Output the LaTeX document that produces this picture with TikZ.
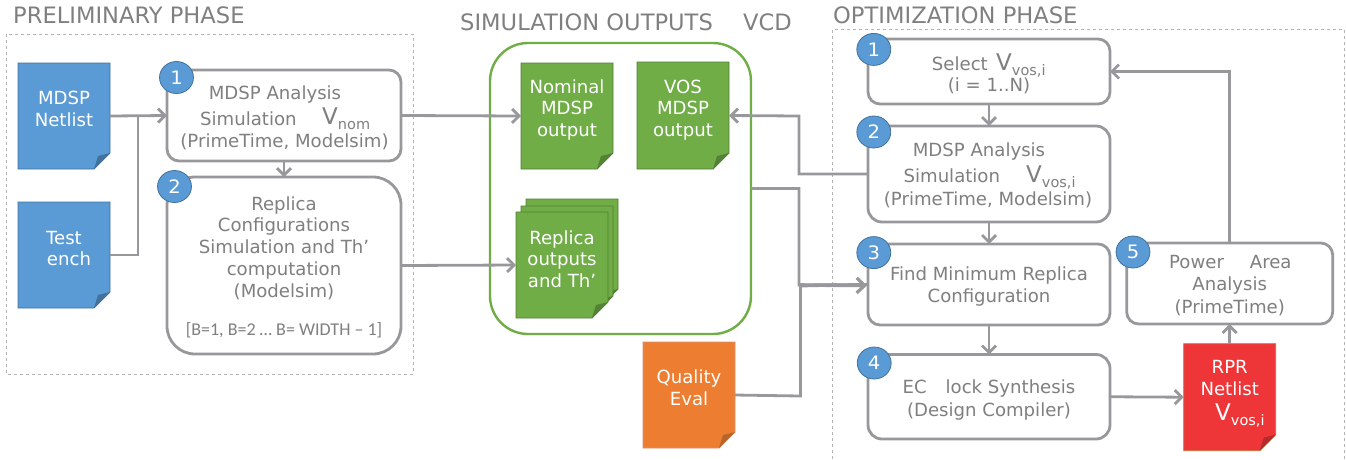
\documentclass[tikz,border=0pt]{standalone}
\usepackage{fontspec}
\setmainfont{DejaVu Sans}
\newfontfamily\calfont{Carlito}
\usetikzlibrary{arrows.meta}
\definecolor{txtgray}{HTML}{7F7F7F}
\definecolor{linegray}{HTML}{98989C}
\definecolor{dashgray}{HTML}{B4B4B4}
\definecolor{blueF}{HTML}{5B9BD5}
\definecolor{blueE}{HTML}{41719C}
\definecolor{blueD}{HTML}{41719C}
\definecolor{greenF}{HTML}{70AD47}
\definecolor{greenE}{HTML}{507E32}
\definecolor{greenD}{HTML}{548235}
\definecolor{orangeF}{HTML}{ED7D31}
\definecolor{orangeE}{HTML}{D9916A}
\definecolor{orangeD}{HTML}{B8642A}
\definecolor{redF}{HTML}{EE3538}
\definecolor{redE}{HTML}{C0703A}
\definecolor{redD}{HTML}{B52A2A}
\tikzset{
  stepbox/.style={draw=linegray,line width=2.8pt,fill=white,rounded corners=#1,inner sep=0pt,outer sep=0pt},
  stepbox/.default=12pt,
  badge/.style={circle,fill=blueF,draw=blueE,line width=0.8pt,minimum size=32pt,inner sep=0pt,text=white,font=\fontsize{18.5}{18.5}\selectfont,xscale=1.06},
  lbl/.style={text=txtgray,font=\fontsize{18.1}{21.7}\selectfont,align=center,inner sep=0pt},
  wlbl/.style={text=white,font=\fontsize{18.1}{21.7}\selectfont,align=center,inner sep=0pt},
  head/.style={text=txtgray,font=\fontsize{22.6}{24}\selectfont,anchor=base west,inner sep=0pt},
  conn/.style={draw=linegray,line width=2.8pt,-{Straight Barb[length=7pt,width=14pt,line width=2.8pt]}},
  plain/.style={draw=linegray,line width=2.8pt},
  phase/.style={draw=dashgray,line width=0.9pt,dash pattern=on 3pt off 3pt},
  hit/.style={inner sep=0pt,outer sep=0pt},
}
\newcommand{\Vsub}[1]{{\fontsize{23}{23}\selectfont V}\raisebox{-5pt}{\fontsize{14.5}{15}\selectfont #1}}
% name, x, y, w, h, fill, edge, fold
\newcommand{\docsheet}[8]{%
  \path[fill=#6,draw=#7,line width=0.9pt] (#2,#3) -- ++(#4,0) -- ++(0,#5-16) -- ++(-16,16) -- ++(16-#4,0) -- cycle;
  \path[fill=#8] (#2+#4-16,#3+#5) -- ++(4,-13) -- ++(12,-3) -- cycle;
  \node[hit,minimum width=#4 pt,minimum height=#5 pt] (#1) at (#2+#4/2,#3+#5/2) {};
}
\begin{document}
\begin{tikzpicture}[x=1pt,y=-1pt]
\useasboundingbox (0,0) rectangle (1346,459);
% phase frames
\draw[phase] (6,34) rectangle (413,374);
\draw[phase] (832,459) -- (832,29.5) -- (1344,29.5) -- (1344,459);
\node[head] (tprelim) at (13,23) {PRELIMINARY PHASE};
\node[head] (tsim) at (460,30) {SIMULATION OUTPUTS};
\node[head] (tvcd) at (743,30) {VCD};
\node[head] (topt) at (833,23) {OPTIMIZATION PHASE};
% green container
\node[draw=greenF,line width=2.4pt,fill=white,rounded corners=38pt,minimum width=261pt,minimum height=291pt,inner sep=0pt,outer sep=0pt] (outputs) at (620.5,188.5) {};
% documents
\docsheet{netlist}{18}{63}{92}{106}{blueF}{blueE}{blueD}
\docsheet{bench}{18}{202}{92}{106}{blueF}{blueE}{blueD}
\docsheet{nominal}{521}{63}{92}{106}{greenF}{greenE}{greenD}
\docsheet{vos}{637}{62}{92}{107}{greenF}{greenE}{greenD}
\docsheet{replicaC}{526}{199}{92}{106}{greenF}{greenE}{greenD}
\docsheet{replicaB}{521}{206}{92}{106}{greenF}{greenE}{greenD}
\docsheet{replicaA}{516}{212}{92}{106}{greenF}{greenE}{greenD}
\docsheet{quality}{643}{342}{92}{106}{orangeF}{orangeE}{orangeD}
\docsheet{rpr}{1183.7}{343.7}{92}{107}{redF}{redE}{redD}
% step boxes
\node[stepbox,minimum width=234pt,minimum height=91pt] (pa) at (284,115.5) {};
\node[stepbox=28pt,minimum width=234pt,minimum height=177pt] (pb) at (284,265.5) {};
\node[stepbox,minimum width=242pt,minimum height=65pt] (oa) at (989,71.5) {};
\node[stepbox=14pt,minimum width=242pt,minimum height=96pt] (ob) at (989,174) {};
\node[stepbox,minimum width=242pt,minimum height=81pt] (oc) at (989,284.5) {};
\node[stepbox=14pt,minimum width=242pt,minimum height=84.5pt] (od) at (989,396.75) {};
\node[stepbox,minimum width=206pt,minimum height=81pt] (oe) at (1229.7,283.5) {};
% connectors
\coordinate (merge) at (138,116);
\draw[conn] (netlist.east) -- (pa.west);
\draw[plain] (bench.east) -| (merge);
\draw[conn] (pa.south) -- (pb.north);
\draw[conn] (pa.east) -- (nominal.west);
\draw[conn] (pb.east) -- (replicaA.west);
\coordinate (vosA) at (799,174);
\coordinate (vosB) at (799,116);
\draw[conn] (ob.west) -- (vosA) -- (vosB) -- (vos.east);
\coordinate (outA) at (799,188.5);
\coordinate (outB) at (799,285);
\coordinate (qualA) at (800.5,396);
\coordinate (qualB) at (800.5,286);
\draw[plain] (outputs.east) -- (outA) -- (outB) -- (oc.west);
\draw[plain] (quality.east) -- (qualA) -- (qualB) -- (oc.west);
\coordinate (inThree) at (867,285.5);
\draw[draw=linegray,line width=3.6pt,-{Straight Barb[length=8pt,width=15pt,line width=3.2pt]}] (outB) -- (inThree);
\draw[conn] (oa.south) -- (ob.north);
\draw[conn] (ob.south) -- (oc.north);
\draw[conn] (oc.south) -- (od.north);
\draw[conn] (od.east) -- (rpr.west);
\draw[conn] (rpr.north) -- (oe.south);
\coordinate (backUp) at (1229.7,71.5);
\draw[conn] (oe.north) -- (backUp) -- (oa.east);
% badges
\node[badge] (ba) at (176.5,77.5) {1};
\node[badge] (bb) at (174.5,186.5) {2};
\node[badge] (bc) at (873.8,49.4) {1};
\node[badge] (bd) at (873.8,132) {2};
\node[badge] (be) at (873.8,252.6) {3};
\node[badge] (bf) at (874.2,363) {4};
\node[badge] (bg) at (1133,252) {5};
% box texts
\node[lbl,anchor=base] (ta1) at (275,99) {MDSP Analysis};
\node[lbl,anchor=base west] (ta2) at (200,125) {Simulation};
\node[lbl,anchor=base west] (ta3) at (322,124.5) {\Vsub{nom}};
\node[lbl,anchor=base] (ta4) at (284.5,147) {(PrimeTime, Modelsim)};
\node[lbl] (tb1) at (284,248) {Replica\\Configurations\\Simulation and Th’\\computation\\(Modelsim)};
\node[anchor=base,text=txtgray,inner sep=0pt,font=\calfont\fontsize{18}{20}\selectfont] (tb2) at (284,335) {[B=1, B=2 … B= WIDTH – 1]};
\node[lbl,anchor=base east] (tc1) at (988,70) {Select};
\node[lbl,anchor=base west] (tc2) at (996,70) {\Vsub{vos,i}};
\node[lbl,anchor=base] (tc3) at (989,91.5) {(i = 1..N)};
\node[lbl,anchor=base] (td1) at (979,156.4) {MDSP Analysis};
\node[lbl,anchor=base west] (td2) at (903.4,182.6) {Simulation};
\node[lbl,anchor=base west] (td3) at (1026,182.6) {\Vsub{vos,i}};
\node[lbl,anchor=base] (td4) at (988,205) {(PrimeTime, Modelsim)};
\node[lbl] (te) at (989,286.4) {Find Minimum Replica\\Configuration};
\node[lbl,anchor=base west] (tf) at (902.4,393) {EC\hspace{19pt}lock Synthesis};
\node[lbl,anchor=base] (tf2) at (989,416) {(Design Compiler)};
\node[lbl,anchor=base west] (tg1) at (1169,268) {Power\hspace{26pt}Area};
\node[lbl,anchor=base] (tg2) at (1229.7,290.6) {Analysis};
\node[lbl,anchor=base] (tg3) at (1229.7,313) {(PrimeTime)};
% document texts
\node[wlbl] (n1) at (64,109) {MDSP\\Netlist};
\node[wlbl,anchor=base] (n2a) at (64,244) {Test};
\node[wlbl,anchor=base] (n2b) at (69,265) {ench};
\node[wlbl] (n3) at (567,110) {Nominal\\MDSP\\output};
\node[wlbl] (n4) at (683,110) {VOS\\MDSP\\output};
\node[wlbl] (n5) at (562,259) {Replica\\outputs\\and Th’};
\node[wlbl] (n6) at (689,388) {Quality\\Eval};
\node[wlbl,anchor=base] (n7a) at (1229.7,373) {RPR};
\node[wlbl,anchor=base] (n7b) at (1229.7,395) {Netlist};
\node[wlbl,anchor=base west] (n8) at (1215,420.7) {\Vsub{vos,i}};
\end{tikzpicture}
\end{document}
